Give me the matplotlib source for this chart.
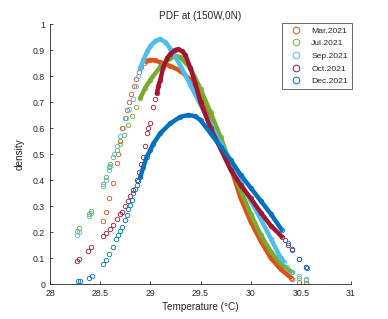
import matplotlib
matplotlib.use("Agg")
import matplotlib.pyplot as plt
from matplotlib.lines import Line2D

plt.rcParams['font.family'] = ['Liberation Sans', 'DejaVu Sans']

labels = ['Mar.2021', 'Jul.2021', 'Sep.2021', 'Oct.2021', 'Dec.2021']
colors = ['#D95319', '#77AC30', '#4DBEEE', '#A2142F', '#0072BD']

# temperature / density pairs
mar_t = [28.525, 28.555, 28.59, 28.625, 28.665, 28.68, 28.70, 28.72, 28.745, 28.765,
         28.79, 28.81, 28.835, 28.86, 28.885, 28.91, 28.935, 28.96,
         29.0, 29.05, 29.1, 29.2, 29.3, 29.4, 29.5, 29.6, 29.7, 29.8, 29.9, 30.0,
         30.1, 30.2, 30.3, 30.4,
         30.41, 30.485, 30.55]
mar_d = [0.243, 0.278, 0.33, 0.39, 0.464, 0.50, 0.55, 0.60, 0.64, 0.67,
         0.70, 0.73, 0.76, 0.79, 0.815, 0.835, 0.85, 0.858,
         0.862, 0.860, 0.852, 0.838, 0.82, 0.785, 0.728, 0.648, 0.55, 0.45, 0.33, 0.24,
         0.165, 0.10, 0.056, 0.025,
         0.018, 0.009, 0.003]

jul_t = [28.27, 28.29, 28.39, 28.41, 28.53, 28.56, 28.59, 28.60, 28.63, 28.665,
         28.70, 28.74, 28.78, 28.82, 28.86, 28.90,
         28.95, 29.0, 29.1, 29.2, 29.25, 29.3, 29.4, 29.5, 29.6, 29.7, 29.8, 29.9,
         30.0, 30.1, 30.2, 30.3, 30.4,
         30.41, 30.485, 30.55]
jul_d = [0.205, 0.214, 0.268, 0.28, 0.385, 0.41, 0.45, 0.46, 0.49, 0.515,
         0.54, 0.575, 0.61, 0.645, 0.68, 0.715,
         0.755, 0.785, 0.836, 0.868, 0.877, 0.872, 0.83, 0.75, 0.66, 0.565, 0.46, 0.36,
         0.27, 0.19, 0.125, 0.078, 0.048,
         0.046, 0.022, 0.017]

sep_t = [28.27, 28.29, 28.385, 28.41, 28.53, 28.56, 28.59, 28.60, 28.635, 28.665,
         28.70, 28.73, 28.76, 28.79, 28.83, 28.86, 28.88, 28.90,
         28.93, 28.97, 29.0, 29.05, 29.1, 29.15, 29.2, 29.3, 29.4, 29.5, 29.6, 29.7,
         29.8, 29.9, 30.0, 30.1, 30.2, 30.3, 30.33,
         30.36, 30.41, 30.485, 30.55]
sep_d = [0.188, 0.20, 0.26, 0.275, 0.377, 0.40, 0.44, 0.455, 0.50, 0.53,
         0.57, 0.60, 0.64, 0.675, 0.71, 0.76, 0.80, 0.83,
         0.86, 0.895, 0.915, 0.935, 0.942, 0.93, 0.905, 0.84, 0.765, 0.69, 0.615, 0.54,
         0.465, 0.39, 0.32, 0.25, 0.175, 0.10, 0.086,
         0.067, 0.047, 0.031, 0.018]

oct_t = [28.27, 28.29, 28.38, 28.405, 28.53, 28.56, 28.60, 28.63, 28.67, 28.70,
         28.715, 28.75, 28.78, 28.80, 28.83, 28.865, 28.89, 28.91, 28.925, 28.945,
         28.965, 28.98, 29.0, 29.03, 29.05, 29.065,
         29.08, 29.1, 29.13, 29.17, 29.2, 29.25, 29.28, 29.32, 29.35, 29.4, 29.45,
         29.5, 29.6, 29.7, 29.8, 29.9, 30.0, 30.1, 30.2, 30.31,
         30.34, 30.375, 30.41, 30.48, 30.55]
oct_d = [0.09, 0.095, 0.128, 0.141, 0.185, 0.197, 0.21, 0.227, 0.25, 0.27,
         0.278, 0.30, 0.32, 0.34, 0.36, 0.40, 0.43, 0.46, 0.49, 0.53,
         0.58, 0.60, 0.62, 0.68, 0.71, 0.733,
         0.76, 0.785, 0.836, 0.87, 0.885, 0.90, 0.903, 0.895, 0.88, 0.83, 0.77,
         0.70, 0.60, 0.52, 0.44, 0.38, 0.33, 0.275, 0.225, 0.182,
         0.17, 0.15, 0.133, 0.095, 0.067]

dec_t = [28.28, 28.30, 28.39, 28.415, 28.525, 28.56, 28.59, 28.625, 28.66, 28.68,
         28.70, 28.72, 28.75, 28.765, 28.78, 28.80, 28.815, 28.83, 28.85, 28.865,
         28.88, 28.90,
         28.93, 28.965, 29.0, 29.03, 29.1, 29.2, 29.3, 29.38, 29.45, 29.5, 29.6, 29.7,
         29.8, 29.9, 30.0, 30.1, 30.2, 30.31,
         30.375, 30.41, 30.48, 30.55, 30.565]
dec_d = [0.012, 0.013, 0.024, 0.03, 0.077, 0.092, 0.115, 0.143, 0.173, 0.19,
         0.204, 0.22, 0.246, 0.265, 0.287, 0.305, 0.323, 0.35, 0.365, 0.38,
         0.395, 0.41,
         0.45, 0.49, 0.515, 0.54, 0.58, 0.618, 0.643, 0.65, 0.645, 0.63, 0.58, 0.528,
         0.477, 0.42, 0.37, 0.32, 0.27, 0.208,
         0.159, 0.131, 0.095, 0.067, 0.06]

# stretch of each series where the circles pile up into a solid band
core = {'Mar.2021': (28.96, 30.4), 'Jul.2021': (28.90, 30.4), 'Sep.2021': (28.90, 30.33),
        'Oct.2021': (29.065, 30.31), 'Dec.2021': (28.90, 30.31)}

series = [(mar_t, mar_d), (jul_t, jul_d), (sep_t, sep_d), (oct_t, oct_d), (dec_t, dec_d)]

fig = plt.figure(figsize=(3.88, 3.19), dpi=100)
ax = fig.add_axes([50 / 388, 1 - 284 / 319, 301 / 388, 260 / 319])

for i, ((t, d), lab, c) in enumerate(zip(series, labels, colors)):
    lo, hi = core[lab]
    ct = [x for x in t if lo <= x <= hi]
    cd = [y for x, y in zip(t, d) if lo <= x <= hi]
    ax.plot(ct, cd, '-', color=c, lw=3.2, solid_capstyle='round', zorder=2 + i)
    ax.plot(t, d, 'o', ls='none', mfc='none', mec=c, ms=3.2, mew=0.6, zorder=2 + i)

ax.set_xlim(28, 31)
ax.set_ylim(0, 1)
xt = [28, 28.5, 29, 29.5, 30, 30.5, 31]
yt = [0, 0.1, 0.2, 0.3, 0.4, 0.5, 0.6, 0.7, 0.8, 0.9, 1]
ax.set_xticks(xt)
ax.set_xticklabels(['28', '28.5', '29', '29.5', '30', '30.5', '31'])
ax.set_yticks(yt)
ax.set_yticklabels(['0', '0.1', '0.2', '0.3', '0.4', '0.5', '0.6', '0.7', '0.8', '0.9', '1'])

ink = '#262626'
for s in ['top', 'right']:
    ax.spines[s].set_visible(False)
for s in ['left', 'bottom']:
    ax.spines[s].set_color(ink)
    ax.spines[s].set_linewidth(0.6)
ax.tick_params(direction='in', length=2.5, width=0.6, colors=ink, labelsize=6.3, pad=3.5)

ax.set_xlabel('Temperature (°C)', fontsize=7.2, color=ink, labelpad=3)
ax.set_ylabel('density', fontsize=7.2, color=ink, labelpad=6)
ax.set_title('PDF at (150W,0N)', fontsize=7.2, color=ink, pad=3.5)

handles = [Line2D([], [], ls='none', marker='o', mfc='none', mec=c, ms=4.8, mew=0.7)
           for c in colors]
leg = fig.legend(handles, labels, loc='upper right', bbox_to_anchor=(352 / 388, 1 - 22.7 / 319),
                 bbox_transform=fig.transFigure, fontsize=6.1, frameon=True, fancybox=False,
                 handlelength=2.2, handletextpad=0.7, borderpad=0.5, labelspacing=0.55,
                 borderaxespad=0)
leg.get_frame().set_edgecolor(ink)
leg.get_frame().set_linewidth(0.6)
for txt in leg.get_texts():
    txt.set_color(ink)

fig.savefig('out.png', dpi=100)
